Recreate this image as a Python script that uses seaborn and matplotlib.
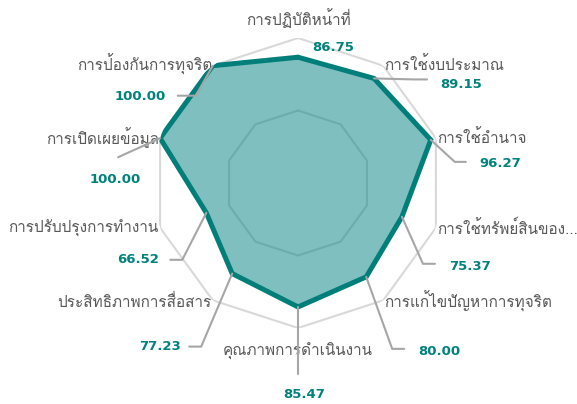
import numpy as np
import pandas as pd
import seaborn as sns
import matplotlib.pyplot as plt
from matplotlib import font_manager
from matplotlib.transforms import IdentityTransform

categories = ['การปฏิบัติหน้าที่', 'การใช้งบประมาณ', 'การใช้อำนาจ', 'การใช้ทรัพย์สินของ...',
              'การแก้ไขปัญหาการทุจริต', 'คุณภาพการดำเนินงาน', 'ประสิทธิภาพการสื่อสาร',
              'การปรับปรุงการทำงาน', 'การเปิดเผยข้อมูล', 'การป้องกันการทุจริต']
scores = [86.75, 89.15, 96.27, 75.37, 80.00, 85.47, 77.23, 66.52, 100.00, 100.00]
grid_levels = [50, 100]

# leader line layout in pixels (y down): elbow offset, horizontal run, text offset from data point
elbow = [(0, 0), (40, 1), (24, 22), (21, 47), (26, 72), (0, 67), (-31, 73), (-24, 47), (-42, 19), (-17, 30)]
run = [0, 13, 11, 12, 12, 0, -12, -12, 0, -18]
text_off = [(14, -10), (66, 6), (49, 24), (47, 50), (52, 75), (6, 88), (-51, 73), (-47, 47), (-45, 41), (-47, 31)]
text_ha = ['left', 'left', 'left', 'left', 'left', 'center', 'right', 'right', 'center', 'right']


def thai_font():
    try:
        from fontTools.ttLib import TTFont
    except ImportError:
        return 'DejaVu Sans'
    for f in font_manager.fontManager.ttflist:
        try:
            tt = TTFont(f.fname, fontNumber=0, lazy=True)
            if 0x0E01 in tt.getBestCmap():
                return f.name
        except Exception:
            pass
    return 'DejaVu Sans'


sns.set_theme(style='white')
thai = thai_font()
plt.rcParams['font.family'] = [thai, 'DejaVu Sans']

df = pd.DataFrame({'category': categories, 'score': scores})
n = len(df)
theta = np.arange(n) * 2 * np.pi / n

fig = plt.figure(figsize=(5.77, 4.04), dpi=100)
ax = fig.add_axes([0.2652, 0.1881, 0.5026, 0.7178], projection='polar')
ax.set_theta_zero_location('N')
ax.set_theta_direction(-1)
ax.set_ylim(0, 100)
ax.grid(False)
ax.set_xticks([])
ax.set_yticks([])
ax.spines['polar'].set_visible(False)
ax.patch.set_alpha(0)

closed = np.append(theta, theta[0])
for lvl in grid_levels:
    ax.plot(closed, [lvl] * (n + 1), color='#d9d9d9', lw=1.5, zorder=1)

vals = np.append(df['score'].values, df['score'].values[0])
ax.fill(closed, vals, color='#008080', alpha=0.5, lw=0, zorder=2)
ax.plot(closed, vals, color='#007f7a', lw=3.6, zorder=3, solid_joinstyle='miter')

# category labels
for i, (t, lab) in enumerate(zip(theta, df['category'])):
    s = np.sin(t)
    if abs(s) < 1e-6:
        r = 114 if np.cos(t) > 0 else 116
        ha = 'center'
    else:
        r, ha = (101, 'left') if s > 0 else (101, 'right')
    ax.text(t, r, lab, ha=ha, va='center', fontsize=11, fontweight='light', color='#595959', zorder=4)

# value labels with leader lines
for i, (t, v) in enumerate(zip(theta, df['score'])):
    px, py = ax.transData.transform((t, v))
    ex, ey = elbow[i]
    xs = [px, px + ex, px + ex + run[i]]
    ys = [py, py - ey, py - ey]
    if ex != 0 or ey != 0:
        fig.add_artist(plt.Line2D(xs, ys, transform=IdentityTransform(), color='#a6a6a6', lw=1.5, zorder=5))
    tx, ty = text_off[i]
    fig.text(px + tx, py - ty, f'{v:.2f}', transform=IdentityTransform(), ha=text_ha[i], va='center',
             fontsize=9.5, fontweight='bold', color='#00827d', family='DejaVu Sans')

plt.savefig('out.png', dpi=100)
